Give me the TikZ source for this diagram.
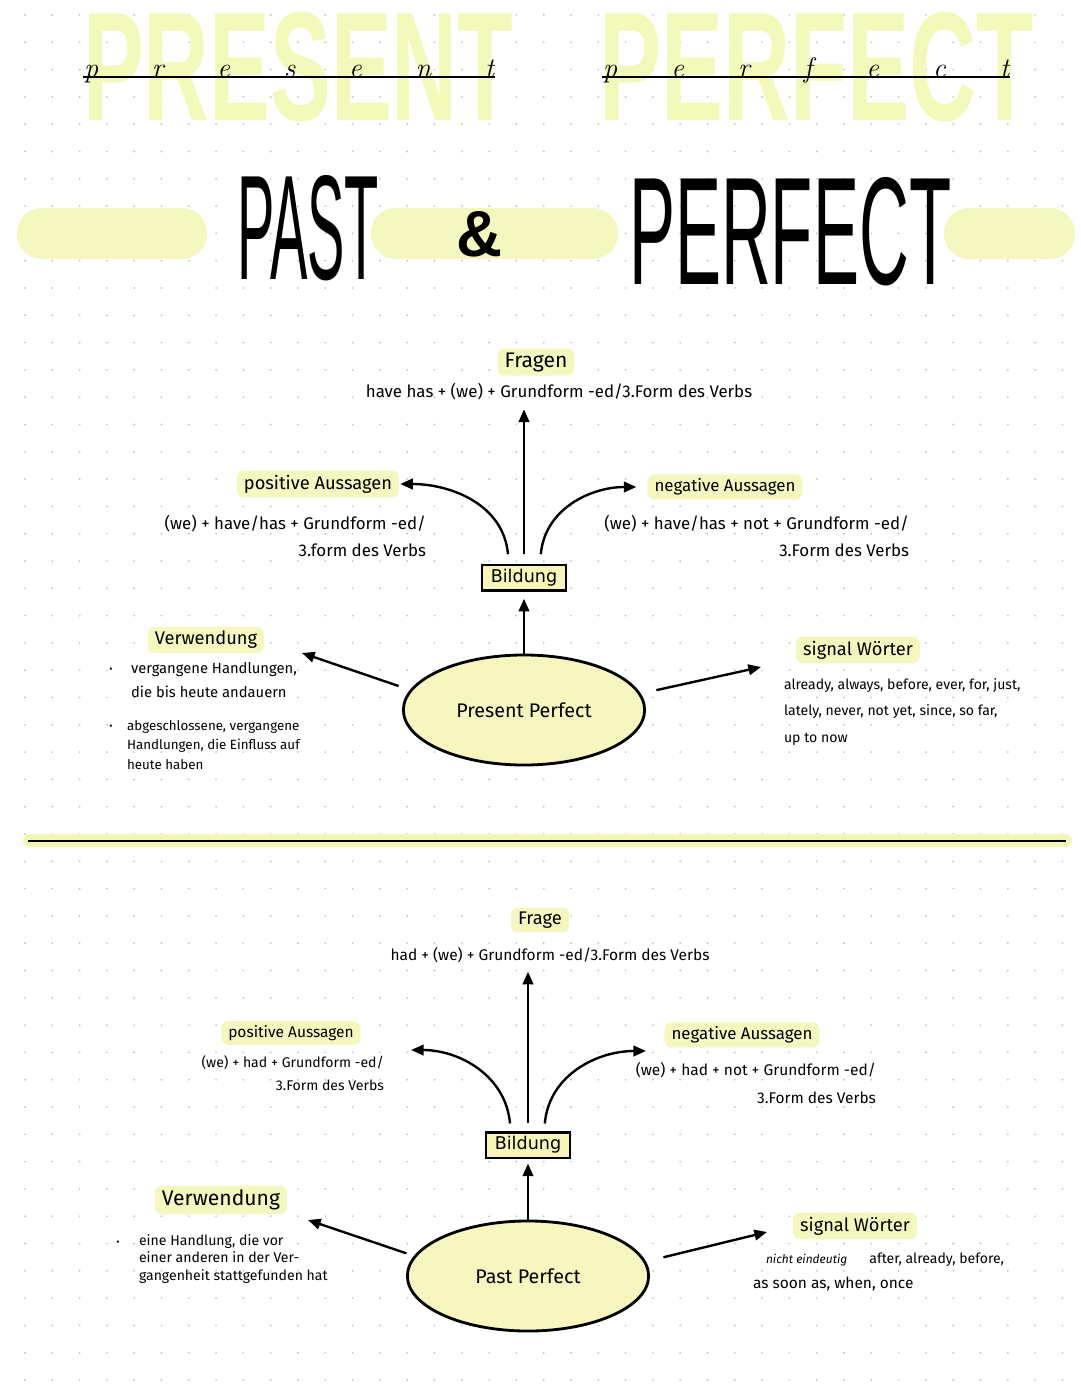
\documentclass[tikz,border=0pt]{standalone}
\usepackage{graphicx}
\usepackage{fontspec}
\setsansfont{Fira Sans}
\renewcommand{\familydefault}{\sfdefault}
\newfontfamily\titlefont{Liberation Sans}
\newfontfamily\boxfont{DejaVu Sans}
\usetikzlibrary{arrows.meta, positioning, shapes.geometric}
\definecolor{hlyellow}{HTML}{F3F7B4}
\definecolor{titleyellow}{HTML}{F2F9B2}
\definecolor{ovalyellow}{HTML}{F7F6B8}
\definecolor{dotgrey}{HTML}{C8C8C8}
\tikzset{
  every picture/.style={line width=1.5pt},
  hl/.style={fill=hlyellow, fill opacity=0.85, text opacity=1, rounded corners=5pt, inner xsep=5pt, inner ysep=3pt, font=\fontsize{13}{15}\selectfont},
  note/.style={font=\fontsize{11}{15}\selectfont, align=left, inner sep=0pt},
  arrow/.style={-{Triangle[length=9pt, width=7.5pt]}, line width=1.7pt},
  pill/.style={fill=hlyellow, fill opacity=0.85, rounded corners=0.62cm},
  bigword/.style={inner sep=0pt, font=\titlefont},
  scriptword/.style={inner sep=0pt, font=\rmfamily\itshape\fontsize{20}{22}\selectfont},
  dotmark/.style={inner sep=0pt, font=\fontsize{7}{8}\selectfont},
}
\begin{document}
\begin{tikzpicture}[x=0.025cm, y=-0.025cm,
  oval/.style={ellipse, draw, line width=2pt, fill=ovalyellow, fill opacity=0.9, text opacity=1, minimum width=6.03cm, minimum height=2.75cm, font=\fontsize{14}{16}\selectfont},
  formbox/.style={rectangle, draw, line width=1.5pt, fill=ovalyellow, minimum width=2.08cm, minimum height=0.63cm, inner sep=0pt, font=\boxfont\fontsize{12.5}{14}\selectfont}]
  \fill[white] (0,0) rectangle (1080,1394);
  \useasboundingbox (0,0) rectangle (1080,1394);
  % dotted paper
  \foreach \i in {0,...,38} {
    \foreach \j in {0,...,50} {
      \fill[dotgrey] (25+27.3*\i, 15+27.3*\j) circle (0.75pt);
    }
  }
  % heading
  \node[bigword, text=titleyellow, text opacity=0.9, anchor=south west] (palePresent) at (82,123) {\resizebox{10.75cm}{2.7cm}{\bfseries PRESENT}};
  \node[bigword, text=titleyellow, text opacity=0.9, anchor=south west] (palePerfect) at (598,123) {\resizebox{10.85cm}{2.7cm}{\bfseries PERFECT}};
  \node[scriptword, anchor=base west] (scrPresent) at (83,77) {\makebox[10.25cm][s]{p r e s e n t}};
  \node[scriptword, anchor=base west] (scrPerfect) at (602,77) {\makebox[10.15cm][s]{p e r f e c t}};
  \draw[line width=0.9pt] (scrPresent.base west) -- (scrPresent.base east);
  \draw[line width=0.9pt] (scrPerfect.base west) -- (scrPerfect.base east);
  \path[pill] (17,208) rectangle (207,259);
  \path[pill] (371,208) rectangle (618,259);
  \path[pill] (944,208) rectangle (1075,259);
  \node[bigword, anchor=south west] (pastWord) at (236,282) {\resizebox{3.55cm}{2.6cm}{PAST}};
  \node[bigword, anchor=south west] (andSign) at (455,258) {\resizebox{1.15cm}{1.125cm}{\bfseries\&}};
  \node[bigword, anchor=south west] (perfectWord) at (628,287) {\resizebox{8.05cm}{2.675cm}{PERFECT}};

  % present perfect
  \node[oval] (oval1) at (524,710) {Present Perfect};
  \node[formbox, above=1.55cm of oval1] (bild1) {Bildung};
  \node[hl, font=\fontsize{15}{17}\selectfont] (fragen1) at (536,362) {Fragen};
  \node[note, font=\fontsize{12}{14}\selectfont] (fragenTxt1) at (559,392) {have has + (we) + Grundform -ed/3.Form des Verbs};
  \node[hl] (posLbl1) at (318,484) {positive Aussagen};
  \node[note, font=\fontsize{12}{19}\selectfont, align=right, anchor=north east] (posTxt1) at (427,514) {(we) + have/has + Grundform -ed/\\3.form des Verbs};
  \node[hl, font=\fontsize{12}{14}\selectfont] (negLbl1) at (725,487) {negative Aussagen};
  \node[note, font=\fontsize{12}{19}\selectfont, align=right, anchor=north east] (negTxt1) at (910,514) {(we) + have/has + not + Grundform -ed/\\3.Form des Verbs};
  \node[hl] (verwLbl1) at (206,640) {Verwendung};
  \node[dotmark] (verwDotA1) at (111,670) {\textbullet};
  \node[note, font=\fontsize{10.5}{17}\selectfont, anchor=north west] (verwA1) at (130,661) {vergangene Handlungen,\\die bis heute andauern};
  \node[dotmark] (verwDotB1) at (111,727) {\textbullet};
  \node[note, font=\fontsize{9.5}{14}\selectfont, anchor=north west] (verwB1) at (126,719) {abgeschlossene, vergangene\\Handlungen, die Einfluss auf\\heute haben};
  \node[hl] (sigLbl1) at (858,650) {signal Wörter};
  \node[note, font=\fontsize{10}{19}\selectfont, anchor=north west] (sigTxt1) at (783,677) {already, always, before, ever, for, just,\\lately, never, not yet, since, so far,\\up to now};
  \coordinate (verwTip1) at (302,653);
  \coordinate (sigTip1) at (761,667);
  \draw[arrow, shorten >=0.2cm] ([yshift=0.25cm]bild1.north) -- (bild1.north |- fragenTxt1.south);
  \draw[arrow] ([xshift=-0.4cm, yshift=0.25cm]bild1.north) to[out=95, in=0] (posLbl1.east);
  \draw[arrow] ([xshift=0.42cm, yshift=0.25cm]bild1.north) to[out=85, in=180] ([xshift=-0.25cm]negLbl1.west);
  \draw[arrow, shorten >=0.18cm] (oval1.north) -- (bild1.south);
  \draw[arrow, shorten <=0.3cm] (oval1.170) -- (verwTip1);
  \draw[arrow, shorten <=0.4cm] (oval1.8) -- (sigTip1);

  % separator
  \fill[hlyellow, rounded corners=5pt] (23,834) rectangle (1072,847);
  \draw[line width=1.8pt] (28,841) -- (1066,841);

  % past perfect
  \node[oval] (oval2) at (528,1276) {Past Perfect};
  \node[formbox, above=1.52cm of oval2] (bild2) {Bildung};
  \node[hl] (frage2) at (540,920) {Frage};
  \node[note] (frageTxt2) at (550,955) {had + (we) + Grundform -ed/3.Form des Verbs};
  \node[hl, font=\fontsize{11}{13}\selectfont] (posLbl2) at (291,1033) {positive Aussagen};
  \node[note, font=\fontsize{10}{16}\selectfont, align=right, anchor=north east] (posTxt2) at (385,1055) {(we) + had + Grundform -ed/\\3.Form des Verbs};
  \node[hl, font=\fontsize{12}{14}\selectfont] (negLbl2) at (742,1035) {negative Aussagen};
  \node[note, font=\fontsize{11}{20}\selectfont, align=right, anchor=north east] (negTxt2) at (877,1061) {(we) + had + not + Grundform -ed/\\3.Form des Verbs};
  \node[hl, font=\fontsize{15}{17}\selectfont] (verwLbl2) at (221,1200) {Verwendung};
  \node[dotmark] (verwDotA2) at (118,1243) {\textbullet};
  \node[note, font=\fontsize{10}{12.5}\selectfont, anchor=north west] (verwA2) at (138,1233) {eine Handlung, die vor\\einer anderen in der Ver-\\gangenheit stattgefunden hat};
  \node[hl] (sigLbl2) at (855,1226) {signal Wörter};
  \node[note, font=\itshape\fontsize{8.5}{10}\selectfont, anchor=west] (sigHint2) at (765,1260) {nicht eindeutig};
  \node[note, font=\fontsize{10}{12}\selectfont, right=0.5cm of sigHint2] (sigTxt2) {after, already, before,};
  \node[note, anchor=west] (sigTxt3) at (752,1284) {as soon as, when, once};
  \coordinate (posTip2) at (411,1050);
  \coordinate (negTip2) at (646,1051);
  \coordinate (verwTip2) at (308,1220);
  \coordinate (sigTip2) at (767,1232);
  \draw[arrow, shorten >=0.2cm] ([yshift=0.2cm]bild2.north) -- (bild2.north |- frageTxt2.south);
  \draw[arrow] ([xshift=-0.45cm, yshift=0.2cm]bild2.north) to[out=95, in=0] (posTip2);
  \draw[arrow] ([xshift=0.42cm, yshift=0.2cm]bild2.north) to[out=85, in=180] (negTip2);
  \draw[arrow, shorten >=0.12cm] (oval2.north) -- (bild2.south);
  \draw[arrow, shorten <=0.2cm] (oval2.170) -- (verwTip2);
  \draw[arrow, shorten <=0.45cm] (oval2.7) -- (sigTip2);
\end{tikzpicture}
\end{document}
